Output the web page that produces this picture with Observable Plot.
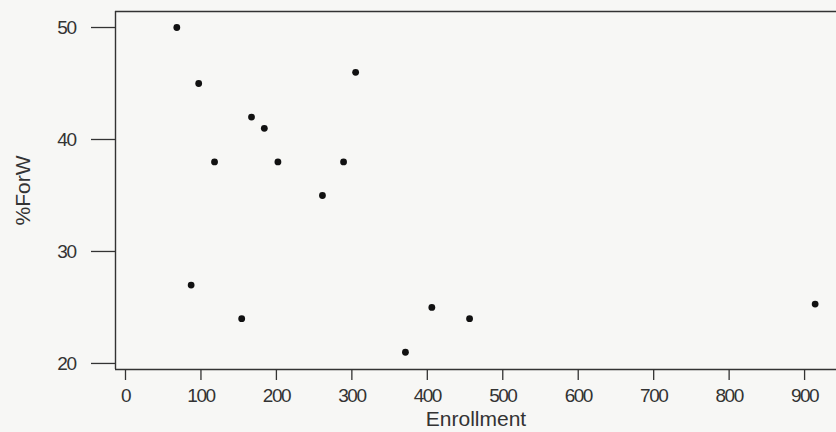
<!DOCTYPE html>
<html>
<head>
<meta charset="utf-8">
<script src="https://cdn.jsdelivr.net/npm/d3@7"></script>
<script src="https://cdn.jsdelivr.net/npm/@observablehq/plot@0.6"></script>
<style>
  html, body { margin: 0; padding: 0; background: #f7f7f5; }
  #chart svg { display: block; }
</style>
</head>
<body>
<div id="chart"></div>
<script>
// Data
const enrollment = [68, 97, 305, 167, 184, 118, 202, 289, 261, 87, 154, 406, 456, 371, 914];
const pctForW    = [50, 45, 46, 42, 41, 38, 38, 38, 35, 27, 24, 25, 24, 21, 25.3];

const xTicks = [0, 100, 200, 300, 400, 500, 600, 700, 800, 900];
const yTicks = [20, 30, 40, 50];
const xDomain = [-13.25, 942.3];
const yDomain = [19.46, 51.43];

const xLabel = "Enrollment";
const yLabel = "%ForW";

const data = enrollment.map((e, i) => ({enrollment: e, pct: pctForW[i]}));

const ink = "#333";

const chart = Plot.plot({
  width: 836,
  height: 432,
  marginLeft: 115,
  marginTop: 11,
  marginBottom: 63,
  marginRight: 0,
  style: {
    background: "transparent",
    fontFamily: "'Liberation Sans', Arial, sans-serif",
    color: ink
  },
  x: {domain: xDomain},
  y: {domain: yDomain},
  marks: [
    Plot.ruleX([xDomain[0]], {stroke: ink, strokeWidth: 1.4}),
    Plot.ruleY([yDomain[0]], {stroke: ink, strokeWidth: 1.4}),
    Plot.ruleY([yDomain[1]], {stroke: ink, strokeWidth: 1.4}),
    Plot.axisX({
      ticks: xTicks,
      tickSize: 11,
      tickPadding: 8,
      fontSize: 19,
      stroke: ink,
      strokeWidth: 1.3,
      label: xLabel,
      labelAnchor: "center",
      labelArrow: "none",
      labelOffset: 56
    }),
    Plot.axisY({
      ticks: yTicks,
      tickSize: 24,
      tickPadding: 16,
      fontSize: 19,
      stroke: ink,
      strokeWidth: 1.3,
      label: yLabel,
      labelAnchor: "center",
      labelArrow: "none",
      labelOffset: 100
    }),
    Plot.dot(data, {x: "enrollment", y: "pct", r: 3.4, fill: "#111", stroke: "none"})
  ]
});

// Typography tweaks: narrow digits for tick labels, larger axis titles
d3.select(chart).selectAll("[aria-label='x-axis tick label'] text, [aria-label='y-axis tick label'] text")
  .style("font-size", "19px")
  .style("letter-spacing", "-1.5px");
d3.select(chart).selectAll("[aria-label='x-axis label'] text, [aria-label='y-axis label'] text")
  .style("font-size", "21px");

document.getElementById("chart").appendChild(chart);
</script>
</body>
</html>
